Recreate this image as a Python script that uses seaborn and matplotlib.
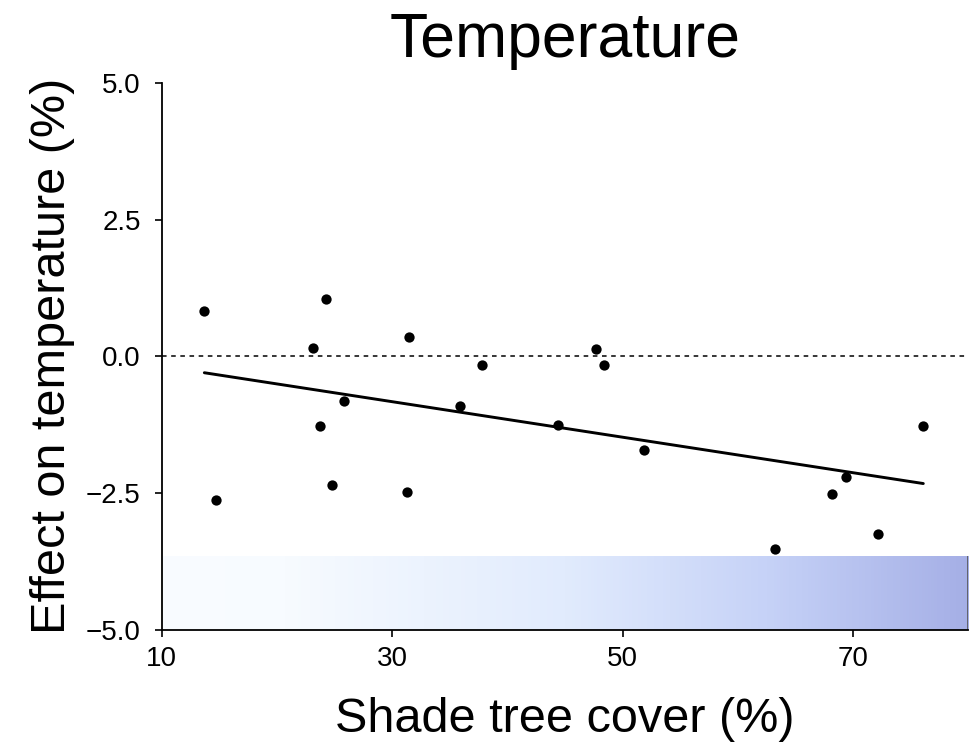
import matplotlib
matplotlib.use('Agg')
import matplotlib.pyplot as plt
import numpy as np
import pandas as pd
import seaborn as sns
from matplotlib.colors import LinearSegmentedColormap

# Data
shade_cover = [13.7, 14.7, 23.1, 23.7, 24.3, 24.8, 25.8, 31.3, 31.5, 35.9,
               37.8, 44.4, 47.7, 48.4, 51.9, 63.2, 68.2, 69.4, 72.2, 76.1]
temp_effect = [0.83, -2.62, 0.16, -1.28, 1.04, -2.36, -0.82, -2.48, 0.35, -0.90,
               -0.15, -1.26, 0.13, -0.15, -1.72, -3.53, -2.51, -2.21, -3.25, -1.27]
band_colors = [(0.0, '#f9fcff'), (0.15, '#f7fbff'), (0.5, '#e1ebfd'),
               (0.75, '#c6d2f7'), (1.0, '#a5afe6')]
band_top = -3.65
x_min, x_max = 10, 80
x_ticks = [10, 30, 50, 70]
y_ticks = [-5.0, -2.5, 0.0, 2.5, 5.0]
y_tick_labels = ['\u22125.0', '\u22122.5', '0.0', '2.5', '5.0']

df = pd.DataFrame({'cover': shade_cover, 'effect': temp_effect})

sns.set_style('ticks')
plt.rcParams['font.family'] = ['Liberation Sans', 'DejaVu Sans']
plt.rcParams['text.color'] = 'black'
plt.rcParams['axes.labelcolor'] = 'black'
plt.rcParams['xtick.color'] = 'black'
plt.rcParams['ytick.color'] = 'black'

fig = plt.figure(figsize=(9.8, 7.47), dpi=100)
ax = fig.add_axes([0.165, 0.157, 0.823, 0.732])

# gradient band along the bottom
cmap = LinearSegmentedColormap.from_list('band', band_colors)
grad = np.linspace(0, 1, 256).reshape(1, -1)
ax.imshow(grad, cmap=cmap, extent=[x_min, x_max, -5, band_top], aspect='auto', zorder=0)
ax.vlines(x_max, -5, band_top, color='#555555', lw=1.2, zorder=1)

ax.axhline(0, color='black', lw=1.1, ls=(0, (3, 3)), zorder=1)
sns.regplot(x='cover', y='effect', data=df, ci=None, ax=ax,
            scatter_kws={'s': 55, 'color': 'black', 'alpha': 1, 'zorder': 3, 'linewidths': 0},
            line_kws={'color': 'black', 'lw': 2.1, 'zorder': 2})

ax.set_xlim(x_min, x_max)
ax.set_ylim(-5, 5)
ax.set_xticks(x_ticks)
ax.set_yticks(y_ticks)
ax.set_yticklabels(y_tick_labels)
ax.tick_params(labelsize=20, length=5, width=1.2)
ax.tick_params(axis='x', pad=7)
ax.tick_params(axis='y', pad=10)
ax.set_xlabel('Shade tree cover (%)', fontsize=35, labelpad=18)
ax.set_ylabel('Effect on temperature (%)', fontsize=35, labelpad=8)
ax.set_title('Temperature', fontsize=45, pad=19)
sns.despine(ax=ax)
for s in ['left', 'bottom']:
    ax.spines[s].set_linewidth(1.3)
    ax.spines[s].set_color('black')

fig.savefig('out.png', dpi=100)
